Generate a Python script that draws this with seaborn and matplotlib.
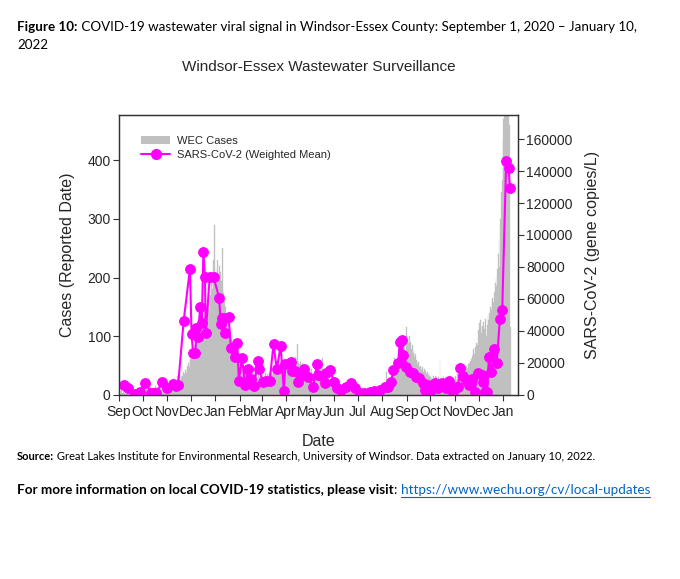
import matplotlib
matplotlib.use("Agg")
import matplotlib.pyplot as plt
import matplotlib.dates as mdates
from matplotlib.lines import Line2D
from matplotlib.patches import Patch
import seaborn as sns
import pandas as pd

# daily WEC cases (reported date), one list per month
cases_2020_09 = [3, 5, 2, 8, 4, 1, 6, 3, 2, 7, 5, 4, 9, 3, 2, 6, 4, 8, 5, 3, 7, 2, 4, 10, 6, 3, 5, 8, 4, 6]
cases_2020_10 = [8, 6, 12, 5, 9, 14, 7, 10, 6, 11, 15, 8, 9, 13, 7, 12, 16, 10, 9, 14, 11, 8, 17, 12, 10, 15, 13, 9, 18, 14, 12]
cases_2020_11 = [14, 18, 12, 20, 16, 22, 25, 19, 28, 24, 30, 21, 26, 32, 27, 29, 35, 24, 31, 38, 33, 40, 36, 42, 45, 38, 50, 55, 48, 60]
cases_2020_12 = [62, 70, 75, 68, 80, 85, 78, 92, 96, 88, 105, 110, 98, 115, 120, 108, 125, 135, 118, 140, 150, 132, 160, 175, 145, 170, 195, 210, 180, 230, 289]
cases_2021_01 = [200, 215, 190, 230, 205, 220, 185, 210, 195, 250, 180, 173, 160, 150, 128, 140, 118, 105, 112, 95, 88, 82, 90, 75, 70, 66, 72, 60, 58, 54, 52]
cases_2021_02 = [48, 52, 45, 40, 47, 38, 42, 44, 36, 40, 35, 41, 33, 38, 36, 30, 34, 39, 32, 35, 31, 37, 33, 29, 34, 30, 28, 32]
cases_2021_03 = [30, 34, 28, 36, 32, 38, 31, 35, 40, 33, 37, 30, 36, 39, 34, 42, 38, 35, 40, 44, 37, 41, 45, 39, 43, 48, 42, 46, 50, 44, 48]
cases_2021_04 = [50, 55, 48, 58, 52, 60, 54, 57, 62, 50, 56, 53, 64, 58, 87, 60, 55, 52, 58, 50, 48, 54, 46, 50, 44, 48, 42, 46, 40, 44]
cases_2021_05 = [42, 38, 45, 36, 40, 35, 38, 33, 37, 30, 35, 28, 32, 34, 30, 36, 63, 31, 27, 30, 25, 28, 22, 26, 20, 24, 19, 22, 17, 20, 16]
cases_2021_06 = [16, 14, 15, 12, 13, 11, 14, 10, 12, 9, 11, 8, 10, 9, 11, 7, 9, 8, 6, 8, 7, 5, 7, 6, 4, 6, 5, 4, 5, 3]
cases_2021_07 = [4, 3, 5, 2, 4, 3, 6, 2, 3, 4, 5, 3, 2, 4, 6, 3, 5, 4, 3, 5, 6, 4, 7, 5, 4, 6, 8, 5, 7, 9, 8]
cases_2021_08 = [10, 12, 14, 11, 16, 40, 18, 22, 25, 20, 28, 30, 26, 35, 38, 63, 42, 45, 40, 50, 55, 48, 60, 65, 58, 72, 70, 78, 82, 75, 80]
cases_2021_09 = [115, 95, 88, 100, 82, 90, 78, 85, 72, 76, 65, 70, 60, 58, 52, 56, 48, 50, 45, 42, 47, 40, 44, 38, 41, 36, 39, 34, 37, 33]
cases_2021_10 = [30, 28, 35, 25, 32, 29, 33, 27, 31, 26, 30, 24, 58, 28, 22, 27, 25, 30, 23, 26, 21, 28, 24, 20, 26, 22, 25, 19, 24, 27, 23]
cases_2021_11 = [28, 32, 26, 35, 30, 38, 33, 40, 36, 42, 38, 45, 40, 48, 44, 50, 46, 52, 55, 48, 58, 62, 66, 72, 78, 70, 82, 88, 75, 85]
cases_2021_12 = [110, 122, 128, 115, 105, 118, 125, 108, 112, 130, 100, 120, 135, 128, 140, 150, 145, 160, 165, 158, 175, 190, 200, 185, 215, 240, 265, 218, 300, 345, 366]
cases_2022_01 = [434, 470, 490, 520, 510, 530, 500, 480, 460, 115]

month_starts = ["2020-09-01", "2020-10-01", "2020-11-01", "2020-12-01", "2021-01-01", "2021-02-01",
                "2021-03-01", "2021-04-01", "2021-05-01", "2021-06-01", "2021-07-01", "2021-08-01",
                "2021-09-01", "2021-10-01", "2021-11-01", "2021-12-01", "2022-01-01"]
monthly_cases = [cases_2020_09, cases_2020_10, cases_2020_11, cases_2020_12, cases_2021_01, cases_2021_02,
                 cases_2021_03, cases_2021_04, cases_2021_05, cases_2021_06, cases_2021_07, cases_2021_08,
                 cases_2021_09, cases_2021_10, cases_2021_11, cases_2021_12, cases_2022_01]

# SARS-CoV-2 weighted mean (gene copies/L) by sample date
viral_dates = [
    "2020-09-07", "2020-09-13", "2020-09-21", "2020-09-27", "2020-10-04", "2020-10-12", "2020-10-15",
    "2020-10-18", "2020-10-26", "2020-11-01", "2020-11-08", "2020-11-12", "2020-11-15", "2020-11-22",
    "2020-11-30", "2020-12-02", "2020-12-04", "2020-12-07", "2020-12-08", "2020-12-10", "2020-12-13",
    "2020-12-15", "2020-12-17", "2020-12-19", "2020-12-20", "2020-12-25", "2020-12-30", "2021-01-06",
    "2021-01-08", "2021-01-10", "2021-01-13", "2021-01-14", "2021-01-18", "2021-01-21", "2021-01-26",
    "2021-01-29", "2021-01-31", "2021-02-04", "2021-02-08", "2021-02-12", "2021-02-16", "2021-02-19",
    "2021-02-24", "2021-02-26", "2021-03-02", "2021-03-06", "2021-03-11", "2021-03-16", "2021-03-20",
    "2021-03-25", "2021-03-29", "2021-03-31", "2021-04-07", "2021-04-09", "2021-04-12", "2021-04-16",
    "2021-04-20", "2021-04-24", "2021-04-29", "2021-05-05", "2021-05-10", "2021-05-11", "2021-05-16",
    "2021-05-20", "2021-05-21", "2021-05-26", "2021-06-01", "2021-06-04", "2021-06-10", "2021-06-16",
    "2021-06-22", "2021-06-27", "2021-07-03", "2021-07-09", "2021-07-16", "2021-07-22", "2021-07-29",
    "2021-08-04", "2021-08-08", "2021-08-12", "2021-08-15", "2021-08-21", "2021-08-23", "2021-08-25",
    "2021-08-26", "2021-08-27", "2021-08-31", "2021-09-05", "2021-09-09", "2021-09-13", "2021-09-17",
    "2021-09-22", "2021-09-24", "2021-09-28", "2021-10-02", "2021-10-07", "2021-10-11", "2021-10-15",
    "2021-10-19", "2021-10-21", "2021-10-25", "2021-10-29", "2021-10-30", "2021-11-04", "2021-11-05",
    "2021-11-08", "2021-11-11", "2021-11-15", "2021-11-19", "2021-11-23", "2021-11-26", "2021-11-30",
    "2021-12-05", "2021-12-07", "2021-12-09", "2021-12-12", "2021-12-14", "2021-12-17", "2021-12-21",
    "2021-12-24", "2021-12-28", "2021-12-31", "2022-01-05", "2022-01-08", "2022-01-10"]
viral_values = [
    6250, 4200, 600, 2000, 7700, 1500, 1200,
    1000, 7900, 4200, 6700, 5800, 6250, 46250,
    79000, 38100, 26000, 26000, 41700, 36500, 55200,
    44800, 89200, 73500, 38500, 73500, 73500, 60800,
    44400, 48000, 38500, 48000, 48500, 29600, 23500,
    32300, 9000, 22900, 6250, 16250, 9800, 5600,
    21250, 16000, 8000, 9000, 8500, 31900, 16000,
    30600, 2700, 19400, 20800, 15000, 15200, 8000,
    12500, 16000, 11000, 4800, 19400, 12500, 12000,
    7300, 14000, 15600, 8300, 4200, 3100, 4800,
    7300, 4200, 1000, 1500, 2100, 2500, 3100,
    4800, 4800, 8300, 15600, 19800, 33300, 20800,
    34400, 25000, 17700, 14600, 13500, 11500, 10400,
    7300, 3100, 6250, 3100, 7300, 4200, 7800,
    5200, 4200, 9000, 3100, 2100, 4800, 5200,
    16700, 12000, 9400, 6250, 9800, 2100, 13500,
    12500, 8300, 2100, 2100, 23500, 14600, 28500,
    19800, 47300, 53100, 146500, 141700, 129200]

case_frames = [pd.DataFrame({"date": pd.date_range(m, periods=len(v), freq="D"), "cases": v})
               for m, v in zip(month_starts, monthly_cases)]
cases_df = pd.concat(case_frames, ignore_index=True)
viral_df = pd.DataFrame({"date": pd.to_datetime(viral_dates), "copies": viral_values})

sns.set_theme(style="ticks")
plt.rcParams["font.family"] = ["Liberation Sans", "DejaVu Sans"]

W, H = 680, 579
fig = plt.figure(figsize=(W / 100, H / 100), dpi=100)
ax = fig.add_axes([119 / W, 1 - 395 / H, 399 / W, 280 / H])

ax.bar(cases_df["date"], cases_df["cases"], width=1.0, color="#c0c0c0",
       edgecolor="#c0c0c0", linewidth=0.25, align="center")
ax.set_ylim(0, 477)
ax.set_yticks([0, 100, 200, 300, 400])
ax.set_xlim(pd.Timestamp("2020-09-01"), pd.Timestamp("2022-01-20"))
ax.xaxis.set_major_locator(mdates.MonthLocator())
ax.xaxis.set_major_formatter(mdates.DateFormatter("%b"))

ax2 = ax.twinx()
sns.lineplot(data=viral_df, x="date", y="copies", ax=ax2, color="#ff00ff", marker="o",
             markersize=7, markeredgecolor="#ff00ff", linewidth=1.5)
ax2.set_ylim(0, 175000)
ax2.set_yticks(range(0, 160001, 20000))
ax2.set_xlim(pd.Timestamp("2020-09-01"), pd.Timestamp("2022-01-20"))

for a in (ax, ax2):
    for s in a.spines.values():
        s.set_color("#333333")
        s.set_linewidth(0.9)
    a.tick_params(direction="out", length=4, width=0.8, color="#333333", labelsize=10, pad=2)
    a.grid(False)
ax.tick_params(axis="x", labelsize=10, pad=3)

ax.set_xlabel("Date", fontsize=11.5)
ax.xaxis.set_label_coords(0.5, -0.14)
ax.set_ylabel("Cases (Reported Date)", fontsize=11.5)
ax.yaxis.set_label_coords(-0.11, 0.5)
ax2.set_ylabel("SARS-CoV-2 (gene copies/L)", fontsize=11.5)
ax2.yaxis.set_label_coords(1.168, 0.5)

handles = [Patch(facecolor="#c0c0c0", edgecolor="none", label="WEC Cases"),
           Line2D([], [], color="#ff00ff", marker="o", markersize=7, linewidth=1.5,
                  label="SARS-CoV-2 (Weighted Mean)")]
ax2.legend(handles=handles, loc="upper left", bbox_to_anchor=(0.045, 0.94), frameon=False,
           fontsize=8, handlelength=2.6, handletextpad=0.6, labelspacing=0.35, borderaxespad=0)

fig.text((119 + 518) / 2 / W, 1 - 67 / H, "Windsor-Essex Wastewater Surveillance",
         ha="center", va="center", fontsize=11)

# caption text around the chart
renderer = fig.canvas.get_renderer()
cap_font = ["Lato", "DejaVu Sans"]


def write_run(x_px, y_px, parts, size):
    x = x_px
    out = []
    for text, weight, color in parts:
        t = fig.text(x / W, 1 - y_px / H, text, fontsize=size, fontweight=weight, color=color,
                     family=cap_font, ha="left", va="baseline")
        bb = t.get_window_extent(renderer=renderer)
        out.append(bb)
        x = bb.x1
    return out


write_run(17, 31, [("Figure 10:", "bold", "black"),
                   (" COVID-19 wastewater viral signal in Windsor-Essex County: September 1, 2020 \u2013 January 10,",
                    "normal", "black")], 9.65)
write_run(17, 49, [("2022", "normal", "black")], 9.65)
write_run(17, 460, [("Source:", "bold", "black"),
                    (" Great Lakes Institute for Environmental Research, University of Windsor. Data extracted on January 10, 2022.",
                     "normal", "black")], 8.0)
boxes = write_run(17, 494, [("For more information on local COVID-19 statistics, please visit", "bold", "black"),
                            (": ", "normal", "black"),
                            ("https://www.wechu.org/cv/local-updates", "normal", "#0563c1")], 9.7)
link = boxes[-1]
yline = (1 - 494 / H) - 2.5 / H
fig.add_artist(Line2D([link.x0 / W, link.x1 / W], [yline, yline], color="#0563c1", linewidth=0.8,
                      transform=fig.transFigure))

fig.savefig("out.png", dpi=100)
